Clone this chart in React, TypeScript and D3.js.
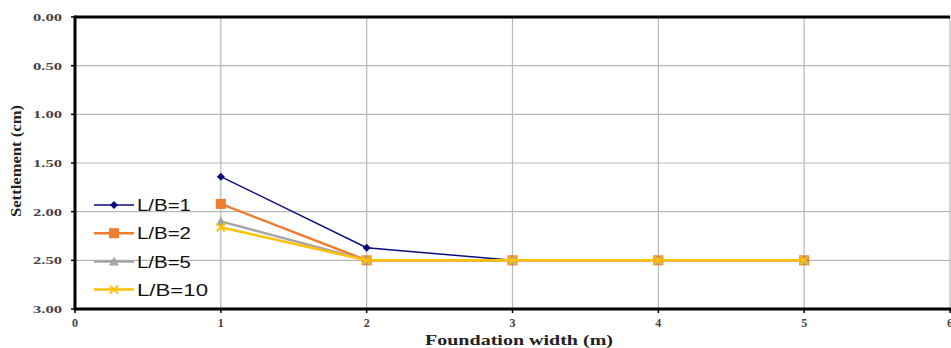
import React from "react";
import * as d3 from "d3";

const widths = [1, 2, 3, 4, 5];
const seriesNames = ["L/B=1", "L/B=2", "L/B=5", "L/B=10"];
const lb1 = [1.64, 2.37, 2.5, 2.5, 2.5];
const lb2 = [1.92, 2.5, 2.5, 2.5, 2.5];
const lb5 = [2.1, 2.5, 2.5, 2.5, 2.5];
const lb10 = [2.16, 2.5, 2.5, 2.5, 2.5];
const xTicks = [0, 1, 2, 3, 4, 5, 6];
const yTicks = [0, 0.5, 1, 1.5, 2, 2.5, 3];

const colors = ["#0b0b7e", "#ee7d31", "#a5a5a5", "#ffc000"];
const markers = ["diamond", "square", "triangle", "x"];
const data = [lb1, lb2, lb5, lb10];

function Marker({ kind, x, y, color }: { kind: string; x: number; y: number; color: string }) {
  if (kind === "diamond") {
    const s = 4;
    return <path d={`M${x},${y - s}L${x + s},${y}L${x},${y + s}L${x - s},${y}Z`} fill={color} />;
  }
  if (kind === "square") {
    return <rect x={x - 5} y={y - 5} width={10} height={10} fill={color} />;
  }
  if (kind === "triangle") {
    return <path d={`M${x},${y - 5}L${x + 5},${y + 4}L${x - 5},${y + 4}Z`} fill={color} />;
  }
  return (
    <g stroke={color} strokeWidth={2}>
      <line x1={x - 4} y1={y - 4} x2={x + 4} y2={y + 4} />
      <line x1={x - 4} y1={y + 4} x2={x + 4} y2={y - 4} />
    </g>
  );
}

export default function App() {
  const W = 951, H = 348;
  const left = 75, right = 950, top = 17, bottom = 309;
  const x = d3.scaleLinear().domain([0, 6]).range([left, right]);
  const y = d3.scaleLinear().domain([0, 3]).range([top, bottom]);
  const line = d3.line<number>().x((_, i) => x(widths[i])).y((d) => y(d));
  const serif = "'Liberation Serif', 'Times New Roman', serif";
  const sans = "'Liberation Sans', Arial, sans-serif";
  return (
    <svg width={W} height={H} style={{ position: "absolute", left: 0, top: 0 }}>
      <rect width={W} height={H} fill="#fff" />
      {xTicks.slice(1).map((t) => (
        <line key={"gx" + t} x1={x(t)} x2={x(t)} y1={top} y2={bottom} stroke="#b8b8b8" strokeWidth={1.2} />
      ))}
      {yTicks.slice(1, -1).map((t) => (
        <line key={"gy" + t} x1={left} x2={right} y1={y(t)} y2={y(t)} stroke="#b8b8b8" strokeWidth={1.2} />
      ))}
      <line x1={left} x2={right} y1={top} y2={top} stroke="#000" strokeWidth={3} />
      <line x1={left} x2={right + 1} y1={bottom} y2={bottom} stroke="#000" strokeWidth={3} />
      <line x1={left} x2={left} y1={top - 1.5} y2={bottom + 1.5} stroke="#000" strokeWidth={3} />
      {yTicks.map((t) => (
        <g key={"yt" + t}>
          <line x1={left - 4} x2={left} y1={y(t)} y2={y(t)} stroke="#000" strokeWidth={1.5} />
          <text x={33} y={y(t)} dy="0.35em" textLength={29} lengthAdjust="spacingAndGlyphs" fontFamily={serif} fontWeight="bold" fontSize={11} fill="#444">
            {t.toFixed(2)}
          </text>
        </g>
      ))}
      {xTicks.map((t) => (
        <g key={"xt" + t}>
          <line x1={x(t)} x2={x(t)} y1={bottom} y2={bottom + 4} stroke="#000" strokeWidth={1.5} />
          <text x={x(t)} y={327} textAnchor="middle" fontFamily={serif} fontWeight="bold" fontSize={12} fill="#444">
            {t}
          </text>
        </g>
      ))}
      <text x={425} y={345} textLength={188} lengthAdjust="spacingAndGlyphs" fontFamily={serif} fontWeight="bold" fontSize={15} fill="#222">
        Foundation width (m)
      </text>
      <text transform={`translate(21,217) rotate(-90)`} textLength={112} lengthAdjust="spacingAndGlyphs" fontFamily={serif} fontWeight="bold" fontSize={14} fill="#222">
        Settlement (cm)
      </text>
      {data.map((s, k) => (
        <g key={"s" + k}>
          <path d={line(s) || ""} fill="none" stroke={colors[k]} strokeWidth={k === 0 ? 1.5 : 2.5} />
          {s.map((v, i) => (
            <Marker key={i} kind={markers[k]} x={x(widths[i])} y={y(v)} color={colors[k]} />
          ))}
        </g>
      ))}
      {seriesNames.map((n, k) => {
        const ly = 205 + k * 28.2;
        return (
          <g key={"lg" + k}>
            <line x1={94} x2={134} y1={ly} y2={ly} stroke={colors[k]} strokeWidth={k === 0 ? 1.5 : 2.5} />
            <Marker kind={markers[k]} x={114} y={ly} color={colors[k]} />
            <text x={137} y={ly} dy="0.36em" textLength={n.length === 6 ? 71 : 54} lengthAdjust="spacingAndGlyphs" fontFamily={sans} fontSize={17} fill="#111">
              {n}
            </text>
          </g>
        );
      })}
    </svg>
  );
}
